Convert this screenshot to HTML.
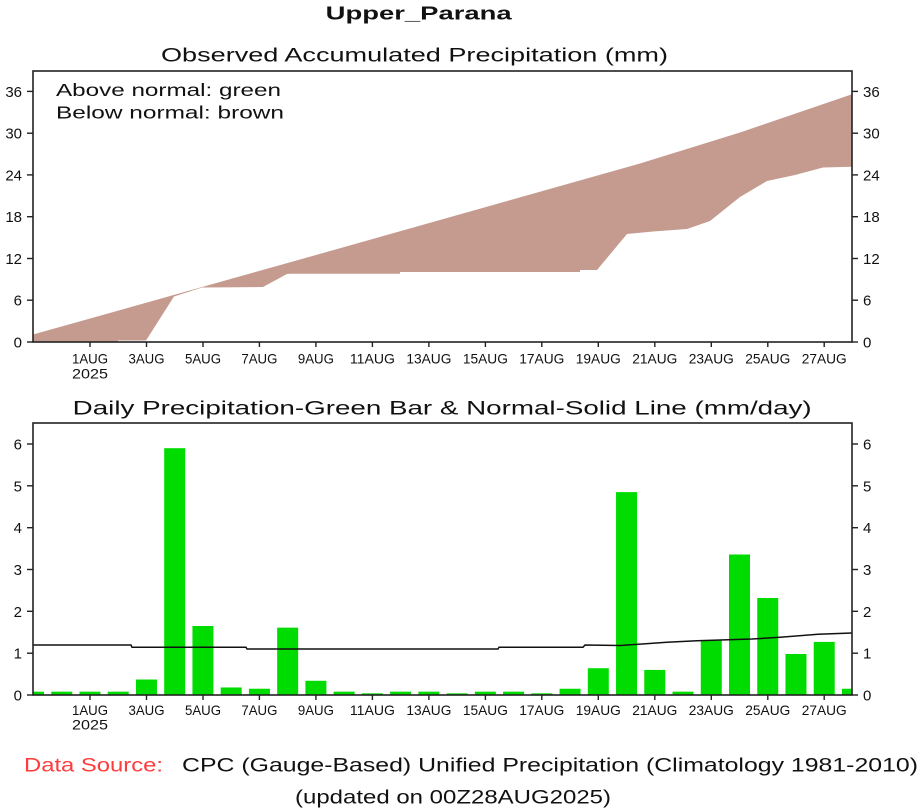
<!DOCTYPE html>
<html><head><meta charset="utf-8"><style>
html,body{margin:0;padding:0;background:#fff;}
svg{display:block;}
text{font-family:"Liberation Sans",sans-serif;fill:#111;}
.t{font-size:15px;}
</style></head><body>
<svg width="922" height="809" viewBox="0 0 922 809" xmlns="http://www.w3.org/2000/svg">
<defs>
<clipPath id="c1"><rect x="33" y="71" width="819" height="271"/></clipPath>
<clipPath id="c2"><rect x="33" y="423" width="819" height="272"/></clipPath>
</defs>
<rect width="922" height="809" fill="#fff"/>

<!-- Titles -->
<text x="418.7" y="19.5" font-size="18.5" font-weight="bold" text-anchor="middle" textLength="186" lengthAdjust="spacingAndGlyphs">Upper_Parana</text>
<text x="161" y="61.5" font-size="19" textLength="507" lengthAdjust="spacingAndGlyphs">Observed Accumulated Precipitation (mm)</text>

<!-- Top chart -->
<g clip-path="url(#c1)">
<polygon fill="#c59b90" points="33,334.5 300,259.5 640,163.5 740,132.5 852,94.3 852,166.7 823,167.5 795,175 767,181 740,197 710,221 687,229 653,231.5 627,234 597,270 580,270 580,272 400,272 400,273.7 290,273.7 287,274 263,287 202,287.5 174,296.5 146,340.5 118,340.5 118,342 33,342"/>
</g>
<rect x="33" y="71" width="819" height="271" fill="none" stroke="#222" stroke-width="1.6"/>
<text x="56" y="96" font-size="17.5" textLength="225" lengthAdjust="spacingAndGlyphs">Above normal: green</text>
<text x="56" y="118.3" font-size="17.5" textLength="228" lengthAdjust="spacingAndGlyphs">Below normal: brown</text>

<g stroke="#222" stroke-width="1.4">
<line x1="27" y1="342" x2="33" y2="342"/><line x1="27" y1="300.2" x2="33" y2="300.2"/><line x1="27" y1="258.5" x2="33" y2="258.5"/><line x1="27" y1="216.7" x2="33" y2="216.7"/><line x1="27" y1="174.9" x2="33" y2="174.9"/><line x1="27" y1="133.2" x2="33" y2="133.2"/><line x1="27" y1="91.4" x2="33" y2="91.4"/>
<line x1="852" y1="342" x2="858" y2="342"/><line x1="852" y1="300.2" x2="858" y2="300.2"/><line x1="852" y1="258.5" x2="858" y2="258.5"/><line x1="852" y1="216.7" x2="858" y2="216.7"/><line x1="852" y1="174.9" x2="858" y2="174.9"/><line x1="852" y1="133.2" x2="858" y2="133.2"/><line x1="852" y1="91.4" x2="858" y2="91.4"/>
<line x1="90" y1="342" x2="90" y2="347"/><line x1="146.5" y1="342" x2="146.5" y2="347"/><line x1="203" y1="342" x2="203" y2="347"/><line x1="259.4" y1="342" x2="259.4" y2="347"/><line x1="315.9" y1="342" x2="315.9" y2="347"/><line x1="372.4" y1="342" x2="372.4" y2="347"/><line x1="428.9" y1="342" x2="428.9" y2="347"/><line x1="485.4" y1="342" x2="485.4" y2="347"/><line x1="541.8" y1="342" x2="541.8" y2="347"/><line x1="598.3" y1="342" x2="598.3" y2="347"/><line x1="654.8" y1="342" x2="654.8" y2="347"/><line x1="711.3" y1="342" x2="711.3" y2="347"/><line x1="767.8" y1="342" x2="767.8" y2="347"/><line x1="824.2" y1="342" x2="824.2" y2="347"/>
</g>
<g class="t" text-anchor="end">
<text x="22" y="347.5">0</text><text x="22" y="305.7">6</text><text x="22" y="264">12</text><text x="22" y="222.2">18</text><text x="22" y="180.4">24</text><text x="22" y="138.7">30</text><text x="22" y="96.9">36</text>
</g>
<g class="t">
<text x="863" y="347.5">0</text><text x="863" y="305.7">6</text><text x="863" y="264">12</text><text x="863" y="222.2">18</text><text x="863" y="180.4">24</text><text x="863" y="138.7">30</text><text x="863" y="96.9">36</text>
</g>
<g font-size="14" text-anchor="middle">
<text x="90" y="363.5" textLength="36" lengthAdjust="spacingAndGlyphs">1AUG</text>
<text x="90" y="378.5" textLength="36" lengthAdjust="spacingAndGlyphs">2025</text>
<text x="146.5" y="363.5" textLength="36" lengthAdjust="spacingAndGlyphs">3AUG</text>
<text x="203" y="363.5" textLength="36" lengthAdjust="spacingAndGlyphs">5AUG</text>
<text x="259.4" y="363.5" textLength="36" lengthAdjust="spacingAndGlyphs">7AUG</text>
<text x="315.9" y="363.5" textLength="36" lengthAdjust="spacingAndGlyphs">9AUG</text>
<text x="372.4" y="363.5" textLength="45" lengthAdjust="spacingAndGlyphs">11AUG</text>
<text x="428.9" y="363.5" textLength="45" lengthAdjust="spacingAndGlyphs">13AUG</text>
<text x="485.4" y="363.5" textLength="45" lengthAdjust="spacingAndGlyphs">15AUG</text>
<text x="541.8" y="363.5" textLength="45" lengthAdjust="spacingAndGlyphs">17AUG</text>
<text x="598.3" y="363.5" textLength="45" lengthAdjust="spacingAndGlyphs">19AUG</text>
<text x="654.8" y="363.5" textLength="45" lengthAdjust="spacingAndGlyphs">21AUG</text>
<text x="711.3" y="363.5" textLength="45" lengthAdjust="spacingAndGlyphs">23AUG</text>
<text x="767.8" y="363.5" textLength="45" lengthAdjust="spacingAndGlyphs">25AUG</text>
<text x="824.2" y="363.5" textLength="45" lengthAdjust="spacingAndGlyphs">27AUG</text>
</g>

<!-- Bottom chart -->
<text x="72.7" y="414.5" font-size="19" textLength="739" lengthAdjust="spacingAndGlyphs">Daily Precipitation-Green Bar &amp; Normal-Solid Line (mm/day)</text>
<g clip-path="url(#c2)" fill="#00dc00">
<rect x="23" y="691.65" width="21" height="3.35"/>
<rect x="51.24" y="691.65" width="21" height="3.35"/>
<rect x="79.48" y="691.65" width="21" height="3.35"/>
<rect x="107.72" y="691.65" width="21" height="3.35"/>
<rect x="135.96" y="679.52" width="21" height="15.48"/>
<rect x="164.2" y="448.2" width="21" height="246.8"/>
<rect x="192.44" y="626" width="21" height="69"/>
<rect x="220.68" y="687.47" width="21" height="7.53"/>
<rect x="248.92" y="688.73" width="21" height="6.27"/>
<rect x="277.16" y="627.65" width="21" height="67.35"/>
<rect x="305.4" y="680.78" width="21" height="14.22"/>
<rect x="333.64" y="691.65" width="21" height="3.35"/>
<rect x="361.88" y="693.33" width="21" height="1.67"/>
<rect x="390.12" y="691.65" width="21" height="3.35"/>
<rect x="418.36" y="691.65" width="21" height="3.35"/>
<rect x="446.6" y="693.33" width="21" height="1.67"/>
<rect x="474.84" y="691.65" width="21" height="3.35"/>
<rect x="503.08" y="691.65" width="21" height="3.35"/>
<rect x="531.32" y="693.33" width="21" height="1.67"/>
<rect x="559.56" y="688.73" width="21" height="6.27"/>
<rect x="587.8" y="668.23" width="21" height="26.77"/>
<rect x="616.04" y="492.1" width="21" height="202.9"/>
<rect x="644.28" y="669.9" width="21" height="25.1"/>
<rect x="672.52" y="691.65" width="21" height="3.35"/>
<rect x="700.76" y="640.6" width="21" height="54.4"/>
<rect x="729" y="554.5" width="21" height="140.5"/>
<rect x="757.24" y="598" width="21" height="97"/>
<rect x="785.48" y="654" width="21" height="41"/>
<rect x="813.72" y="641.9" width="21" height="53.1"/>
<rect x="841.96" y="688.73" width="21" height="6.27"/>
</g>
<polyline fill="none" stroke="#111" stroke-width="1.5" points="33,645 131,645 132,647.3 246,647.3 247,649 498,649 499,647.3 583,647.3 585,645 620,645.5 667,642.3 697,640.7 752,639 780,637.3 818,634.3 852,633"/>
<rect x="33" y="423" width="819" height="272" fill="none" stroke="#222" stroke-width="1.6"/>

<g stroke="#222" stroke-width="1.4">
<line x1="27" y1="695" x2="33" y2="695"/><line x1="27" y1="653.2" x2="33" y2="653.2"/><line x1="27" y1="611.3" x2="33" y2="611.3"/><line x1="27" y1="569.5" x2="33" y2="569.5"/><line x1="27" y1="527.7" x2="33" y2="527.7"/><line x1="27" y1="485.8" x2="33" y2="485.8"/><line x1="27" y1="444" x2="33" y2="444"/>
<line x1="852" y1="695" x2="858" y2="695"/><line x1="852" y1="653.2" x2="858" y2="653.2"/><line x1="852" y1="611.3" x2="858" y2="611.3"/><line x1="852" y1="569.5" x2="858" y2="569.5"/><line x1="852" y1="527.7" x2="858" y2="527.7"/><line x1="852" y1="485.8" x2="858" y2="485.8"/><line x1="852" y1="444" x2="858" y2="444"/>
<line x1="90" y1="695" x2="90" y2="700"/><line x1="146.5" y1="695" x2="146.5" y2="700"/><line x1="203" y1="695" x2="203" y2="700"/><line x1="259.4" y1="695" x2="259.4" y2="700"/><line x1="315.9" y1="695" x2="315.9" y2="700"/><line x1="372.4" y1="695" x2="372.4" y2="700"/><line x1="428.9" y1="695" x2="428.9" y2="700"/><line x1="485.4" y1="695" x2="485.4" y2="700"/><line x1="541.8" y1="695" x2="541.8" y2="700"/><line x1="598.3" y1="695" x2="598.3" y2="700"/><line x1="654.8" y1="695" x2="654.8" y2="700"/><line x1="711.3" y1="695" x2="711.3" y2="700"/><line x1="767.8" y1="695" x2="767.8" y2="700"/><line x1="824.2" y1="695" x2="824.2" y2="700"/>
</g>
<g class="t" text-anchor="end">
<text x="22" y="700.5">0</text><text x="22" y="658.7">1</text><text x="22" y="616.8">2</text><text x="22" y="575">3</text><text x="22" y="533.2">4</text><text x="22" y="491.3">5</text><text x="22" y="449.5">6</text>
</g>
<g class="t">
<text x="863" y="700.5">0</text><text x="863" y="658.7">1</text><text x="863" y="616.8">2</text><text x="863" y="575">3</text><text x="863" y="533.2">4</text><text x="863" y="491.3">5</text><text x="863" y="449.5">6</text>
</g>
<g font-size="14" text-anchor="middle">
<text x="90" y="715" textLength="36" lengthAdjust="spacingAndGlyphs">1AUG</text>
<text x="90" y="729.5" textLength="36" lengthAdjust="spacingAndGlyphs">2025</text>
<text x="146.5" y="715" textLength="36" lengthAdjust="spacingAndGlyphs">3AUG</text>
<text x="203" y="715" textLength="36" lengthAdjust="spacingAndGlyphs">5AUG</text>
<text x="259.4" y="715" textLength="36" lengthAdjust="spacingAndGlyphs">7AUG</text>
<text x="315.9" y="715" textLength="36" lengthAdjust="spacingAndGlyphs">9AUG</text>
<text x="372.4" y="715" textLength="45" lengthAdjust="spacingAndGlyphs">11AUG</text>
<text x="428.9" y="715" textLength="45" lengthAdjust="spacingAndGlyphs">13AUG</text>
<text x="485.4" y="715" textLength="45" lengthAdjust="spacingAndGlyphs">15AUG</text>
<text x="541.8" y="715" textLength="45" lengthAdjust="spacingAndGlyphs">17AUG</text>
<text x="598.3" y="715" textLength="45" lengthAdjust="spacingAndGlyphs">19AUG</text>
<text x="654.8" y="715" textLength="45" lengthAdjust="spacingAndGlyphs">21AUG</text>
<text x="711.3" y="715" textLength="45" lengthAdjust="spacingAndGlyphs">23AUG</text>
<text x="767.8" y="715" textLength="45" lengthAdjust="spacingAndGlyphs">25AUG</text>
<text x="824.2" y="715" textLength="45" lengthAdjust="spacingAndGlyphs">27AUG</text>
</g>

<!-- Footer -->
<text x="24" y="771.5" font-size="19.5" style="fill:#ff3c3c" textLength="139" lengthAdjust="spacingAndGlyphs">Data Source:</text>
<text x="182" y="771.5" font-size="19.5" textLength="736" lengthAdjust="spacingAndGlyphs">CPC (Gauge-Based) Unified Precipitation (Climatology 1981-2010)</text>
<text x="295" y="803.5" font-size="19.5" textLength="316" lengthAdjust="spacingAndGlyphs">(updated on 00Z28AUG2025)</text>
</svg>
</body></html>
